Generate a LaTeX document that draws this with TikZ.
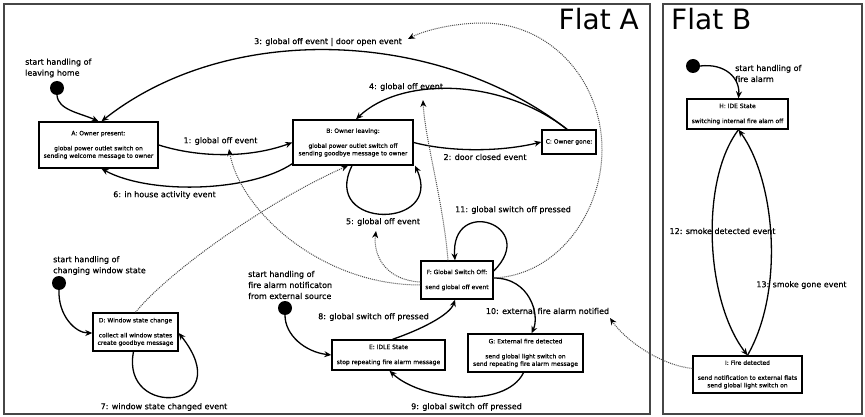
\documentclass[tikz,border=0pt]{standalone}
\usepackage{fontspec}
\setmainfont{DejaVu Sans}
\newfontfamily\lblfont{DejaVu Sans}[FakeBold=0.6]
\newfontfamily\boxfont{DejaVu Sans}[FakeBold=0.4]
\usetikzlibrary{arrows.meta,calc}
\begin{document}
\begin{tikzpicture}[x=1pt,y=-1pt,
  frame/.style={draw=gray!55!black,line width=1.8pt},
  state/.style={draw,line width=1.4pt,font=\boxfont\fontsize{6}{7.5}\selectfont,align=center,inner sep=1pt},
  lbl/.style={font=\lblfont\fontsize{8}{10}\selectfont,inner sep=1pt},
  starttxt/.style={font=\lblfont\fontsize{8}{11}\selectfont,align=left,inner sep=0pt,anchor=west},
  initdot/.style={circle,fill=black,minimum size=14pt,inner sep=0pt},
  arr/.style={line width=1.3pt,-{Stealth[length=7pt,width=6pt]}},
  darr/.style={line width=1pt,draw=gray!60!black,densely dotted,-{Stealth[length=7pt,width=6pt,color=black]}},
  title/.style={font=\fontsize{28}{30}\selectfont,inner sep=0pt}]
\useasboundingbox[fill=white] (0,0) rectangle (865,417);
% frames
\draw[frame] (4,4) rectangle (650,414);
\draw[frame] (663,4) rectangle (862,414);
\node[title,anchor=east] (tA) at (639,19) {Flat A};
\node[title,anchor=west] (tB) at (671,19) {Flat B};
% states
\node[state,minimum width=119pt,minimum height=46pt] (A) at (98.5,145) {A: Owner present:\\[7.5pt]global power outlet switch on\\sending welcome message to owner};
\node[state,minimum width=120pt,minimum height=45pt] (B) at (353,142.5) {B: Owner leaving:\\[7.5pt]global power outlet switch off\\sending goodbye message to owner};
\node[state,minimum width=54pt,minimum height=24pt] (C) at (569,142) {C: Owner gone:};
\node[state,minimum width=85pt,minimum height=38pt] (D) at (135.5,332) {D: Window state change\\[7.5pt]collect all window states\\create goodbye message};
\node[state,minimum width=113pt,minimum height=30pt] (E) at (388.5,355) {E: IDLE State\\[7.5pt]stop repeating fire alarm message};
\node[state,minimum width=72pt,minimum height=38pt] (F) at (457,280) {F: Global Switch Off:\\[7.5pt]send global off event};
\node[state,minimum width=115pt,minimum height=38pt] (G) at (525.5,353) {G: External fire detected\\[7.5pt]send global light switch on\\send repeating fire alarm message};
\node[state,minimum width=101pt,minimum height=30pt] (H) at (737.5,114) {H: IDE State\\[7.5pt]switching internal fire alam off};
\node[state,minimum width=109pt,minimum height=37pt] (I) at (747.5,374.5) {I: Fire detected\\[7.5pt]send notification to external flats\\send global light switch on};
% initial dots and texts
\node[initdot] (s1) at (57,88) {};
\node[initdot] (sD) at (59,283) {};
\node[initdot] (sE) at (285,308) {};
\node[initdot] (sH) at (693,66) {};
\node[starttxt] (ts1) at (25,68) {start handling of\\leaving home};
\node[starttxt] (tsD) at (53,265.5) {start handling of\\changing window state};
\node[starttxt] (tsE) at (248,285) {start handling of\\fire alarm notificaton\\from external source};
\node[starttxt] (tsH) at (735,73.5) {start handling of\\fire alarm};
% labels
\node[lbl] (l1) at (220.5,141) {1: global off event};
\node[lbl] (l2) at (485,157) {2: door closed event};
\node[lbl] (l3) at (328,42) {3: global off event | door open event};
\node[lbl] (l4) at (406,87) {4: global off event};
\node[lbl] (l5) at (383,222) {5: global off event};
\node[lbl] (l6) at (164.5,195) {6: in house activity event};
\node[lbl] (l7) at (164,407) {7: window state changed event};
\node[lbl] (l8) at (373.5,317) {8: global switch off pressed};
\node[lbl] (l9) at (466.5,407) {9: global switch off pressed};
\node[lbl] (l10) at (547.5,311) {10: external fire alarm notified};
\node[lbl] (l11) at (513,210) {11: global switch off pressed};
\node[lbl] (l12) at (722.5,231) {12: smoke detected event};
\node[lbl] (l13) at (801.5,285) {13: smoke gone event};
% dotted arrow targets
\coordinate (t1) at (229,149);
\coordinate (t3) at (408,39);
\coordinate (t4) at (423,100);
\coordinate (t5) at (376,231);
\coordinate (t10) at (610,318);
% solid transitions
\draw[arr] (s1.south) .. controls (58,110) and (80,113) .. (A.north);
\draw[arr] ($(C.north)+(-2,0)$) .. controls (440,30) and (230,20) .. ($(A.north)+(3,0)$);
\draw[arr] ($(C.north)+(-2,0)$) .. controls (500,77) and (400,77) .. ($(B.north)+(3,0)$);
\draw[arr] (A.east) .. controls (200,158) and (250,158) .. (B.west);
\draw[arr] ($(B.south west)+(0,-2)$) .. controls (250,192) and (150,195) .. ($(A.south)+(3,0)$);
\draw[arr] (B.east) .. controls (450,152) and (500,152) .. (C.west);
\draw[arr] ($(B.south)+(-1,0)$) .. controls (320,230) and (445,230) .. ($(B.south)+(62,0)$);
\draw[arr] ($(F.east)+(0,-9)$) .. controls (540,225) and (450,195) .. ($(F.north)+(-2,0)$);
\draw[arr] ($(F.east)+(0,-2)$) .. controls (530,278) and (540,315) .. ($(G.north)+(6,0)$);
\draw[arr] ($(E.north)+(4,0)$) .. controls (420,330) and (450,315) .. ($(F.south)+(-2,0)$);
\draw[arr] (sE.south) .. controls (285,335) and (305,352) .. (E.west);
\draw[arr] (sD.south) .. controls (58,315) and (75,333) .. ($(D.west)+(0,1)$);
\draw[arr] ($(D.south)+(-2,0)$) .. controls (120,420) and (240,410) .. ($(D.east)+(0,1)$);
\draw[arr] ($(G.south)+(-2,0)$) .. controls (505,410) and (420,400) .. ($(E.south)+(1,0)$);
\draw[arr] (sH.east) .. controls (725,63) and (740,78) .. ($(H.north)+(1,0)$);
\draw[arr] ($(H.south)+(1,0)$) .. controls (700,180) and (705,300) .. (I.north);
\draw[arr] (I.north) .. controls (785,290) and (775,180) .. ($(H.south)+(1,0)$);
% dotted notifications
\draw[darr] (D.north) .. controls (170,270) and (270,200) .. ($(B.south)+(-5,0)$);
\draw[darr] ($(F.west)+(0,5)$) .. controls (320,285) and (240,210) .. (t1);
\draw[darr] ($(F.west)+(0,2)$) .. controls (385,280) and (373,255) .. (t5);
\draw[darr] ($(F.north)+(-9,0)$) .. controls (443,200) and (425,140) .. (t4);
\draw[darr] ($(F.east)+(0,-2)$) .. controls (560,275) and (602,210) .. (602,150)
  .. controls (602,80) and (550,23) .. (483,23) .. controls (455,23) and (425,30) .. (t3);
\draw[darr] ($(I.west)+(0,-6)$) .. controls (660,365) and (625,340) .. (t10);
\end{tikzpicture}
\end{document}
